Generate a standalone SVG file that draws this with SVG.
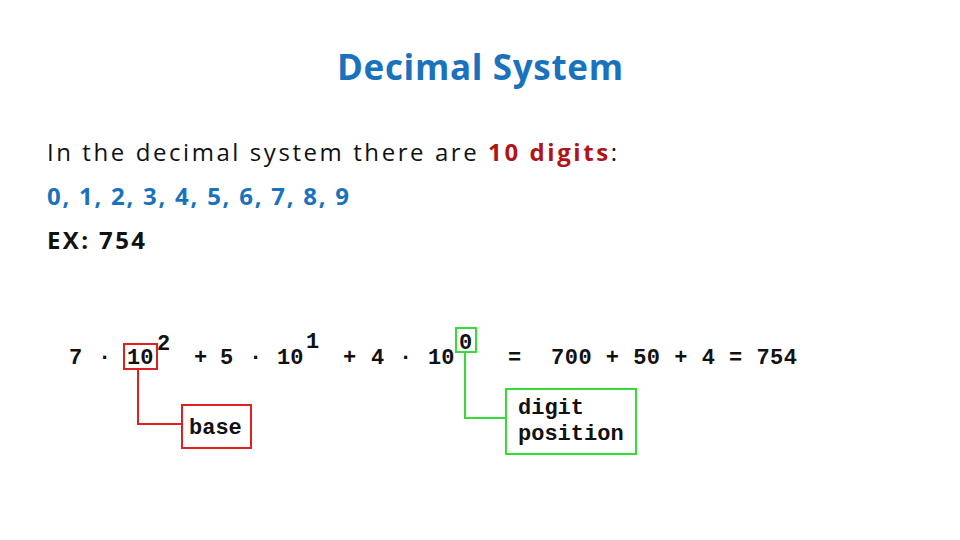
<svg xmlns="http://www.w3.org/2000/svg" width="960" height="540" viewBox="0 0 960 540">
<style>
.t{font-family:"Open Sans","Liberation Sans",sans-serif;font-size:24px}
.m{font-family:"Liberation Mono",monospace;font-weight:bold;font-size:22px;fill:#111}
.r{fill:none;stroke:#e02020;stroke-width:2}
.g{fill:none;stroke:#33dd33;stroke-width:2}
</style>
<rect width="960" height="540" fill="#fff"/>
<text x="480" y="80" text-anchor="middle" font-family="Open Sans,Liberation Sans,sans-serif" font-weight="bold" font-size="35" fill="#1a72bd" textLength="286">Decimal System</text>
<text class="t" x="47" y="161" fill="#111" textLength="570">In the decimal system there are <tspan fill="#b01515" font-weight="bold">10 digits</tspan>:</text>
<text class="t" x="47" y="205" fill="#1a72bd" font-weight="bold" textLength="302">0, 1, 2, 3, 4, 5, 6, 7, 8, 9</text>
<text class="t" x="47" y="249" fill="#111" font-weight="bold" textLength="98">EX: 754</text>
<g id="equation">
<text class="m" x="69" y="364">7</text>
<text class="m" x="98" y="364">·</text>
<text class="m" x="127" y="364">10</text>
<text class="m" x="157" y="350">2</text>
<text class="m" x="194" y="364">+</text>
<text class="m" x="220" y="364">5</text>
<text class="m" x="249" y="364">·</text>
<text class="m" x="277" y="364">10</text>
<text class="m" x="306" y="348">1</text>
<text class="m" x="343" y="364">+</text>
<text class="m" x="371" y="364">4</text>
<text class="m" x="399" y="364">·</text>
<text class="m" x="428" y="364">10</text>
<text class="m" x="459" y="349">0</text>
<text class="m" x="508" y="364">=</text>
<text class="m" x="551" y="364" textLength="246">700 + 50 + 4 = 754</text>
</g>
<g id="base">
<rect class="r" x="124" y="344" width="33" height="25"/>
<rect class="r" x="182" y="405" width="69" height="43"/>
<text class="m" x="189" y="434" font-size="20">base</text>
</g>
<g id="digitpos">
<rect class="g" x="456" y="328" width="20" height="24"/>
<rect class="g" x="506" y="389" width="130" height="65"/>
<text class="m" x="518" y="414" font-size="20">digit</text>
<text class="m" x="518" y="440" font-size="20">position</text>
</g>
<g id="connectors">
<path class="r" d="M138 369V424H182"/>
<path class="g" d="M465 352V418H506"/>
</g>
</svg>
